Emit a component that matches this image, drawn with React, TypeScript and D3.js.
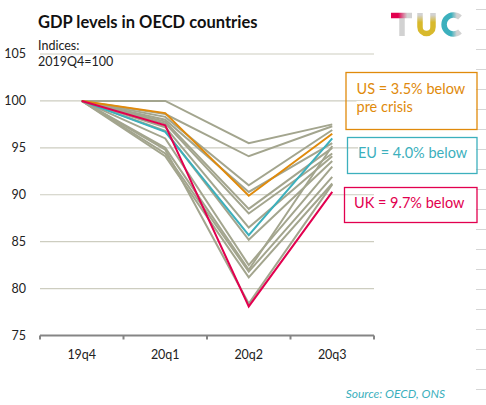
import React, { useEffect, useRef } from "react";
import * as d3 from "d3";

// GDP index by quarter, 2019Q4 = 100
const quarters = ["19q4", "20q1", "20q2", "20q3"];
const usValues = [100, 98.7, 89.9, 96.5];
const euValues = [100, 96.7, 85.7, 96.0];
const ukValues = [100, 97.4, 78.1, 90.3];
const otherCountries = [
  [100, 100.0, 95.5, 97.5],
  [100, 98.6, 94.1, 97.3],
  [100, 98.3, 91.0, 96.9],
  [100, 98.0, 90.3, 95.5],
  [100, 97.8, 88.5, 95.0],
  [100, 97.6, 88.0, 94.4],
  [100, 97.2, 86.5, 94.1],
  [100, 96.8, 85.2, 93.6],
  [100, 96.0, 82.5, 93.0],
  [100, 95.0, 82.0, 95.2],
  [100, 94.4, 81.8, 91.9],
  [100, 94.1, 81.2, 91.2],
  [100, 94.8, 78.4, 91.1],
];
const yTicks = [75, 80, 85, 90, 95, 100, 105];

const FONT = "Lato, 'Noto Sans', sans-serif";
const GREY = "#a3a58e";
const ORANGE = "#e08a0b";
const TEAL = "#3cb0bd";
const CRIMSON = "#e2004f";

function GdpChart() {
  const svgRef = useRef(null);

  useEffect(() => {
    const svg = d3.select(svgRef.current);
    svg.selectAll("*").remove();
    const svgWidth = 486;
    const plot = { left: 40, right: 374, top: 54, bottom: 335.5 };

    const x = d3.scaleBand().domain(quarters).range([plot.left, plot.right]);
    const y = d3.scaleLinear().domain([75, 105]).range([plot.bottom, plot.top]);
    const cx = (q) => x(q) + x.bandwidth() / 2;

    // short ticks down the right edge
    svg
      .append("g")
      .selectAll("line")
      .data(d3.range(20))
      .enter()
      .append("line")
      .attr("x1", 476)
      .attr("x2", svgWidth)
      .attr("y1", (d) => 9.5 + d * 20)
      .attr("y2", (d) => 9.5 + d * 20)
      .attr("stroke", "#d6d6d6");

    // title
    svg
      .append("text")
      .attr("x", 38)
      .attr("y", 28)
      .style("font-family", FONT)
      .style("font-weight", "bold")
      .style("font-size", "16.5px")
      .attr("fill", "#111")
      .text("GDP levels in OECD countries");

    svg
      .append("text")
      .attr("x", 38)
      .attr("y", 50)
      .style("font-family", FONT)
      .style("font-size", "12.5px")
      .attr("fill", "#222")
      .text("Indices:");

    // gridlines
    svg
      .append("g")
      .selectAll("line")
      .data(yTicks.filter((t) => t > 75))
      .enter()
      .append("line")
      .attr("x1", plot.left)
      .attr("x2", plot.right)
      .attr("y1", (d) => y(d))
      .attr("y2", (d) => y(d))
      .attr("stroke", "#cdcdc0")
      .attr("stroke-width", 1.2);

    svg
      .append("text")
      .attr("x", 38)
      .attr("y", 66)
      .style("font-family", FONT)
      .style("font-size", "12.5px")
      .attr("fill", "#222")
      .text("2019Q4=100");

    // y labels
    svg
      .append("g")
      .selectAll("text")
      .data(yTicks)
      .enter()
      .append("text")
      .attr("x", 26)
      .attr("y", (d) => y(d))
      .attr("dy", "0.35em")
      .attr("text-anchor", "end")
      .style("font-family", FONT)
      .style("font-size", "12.5px")
      .attr("fill", "#222")
      .text((d) => d);

    // x axis
    const axis = svg.append("g");
    axis
      .append("line")
      .attr("x1", plot.left)
      .attr("x2", plot.right)
      .attr("y1", y(75))
      .attr("y2", y(75))
      .attr("stroke", "#858585")
      .attr("stroke-width", 2);
    const bounds = quarters.map((q) => x(q)).concat([plot.right]);
    axis
      .selectAll(".tick")
      .data(bounds)
      .enter()
      .append("line")
      .attr("x1", (d) => d)
      .attr("x2", (d) => d)
      .attr("y1", y(75))
      .attr("y2", y(75) + 4)
      .attr("stroke", "#858585")
      .attr("stroke-width", 2);
    axis
      .selectAll("text")
      .data(quarters)
      .enter()
      .append("text")
      .attr("x", (d) => cx(d))
      .attr("y", 359)
      .attr("text-anchor", "middle")
      .style("font-family", FONT)
      .style("font-size", "12.5px")
      .attr("fill", "#222")
      .text((d) => d);

    // lines
    const line = d3
      .line()
      .x((d, i) => cx(quarters[i]))
      .y((d) => y(d));

    svg
      .append("g")
      .selectAll("path")
      .data(otherCountries)
      .enter()
      .append("path")
      .attr("d", line)
      .attr("fill", "none")
      .attr("stroke", GREY)
      .attr("stroke-width", 2);

    [
      [euValues, TEAL],
      [usValues, ORANGE],
      [ukValues, CRIMSON],
    ].forEach(([vals, color]) => {
      svg
        .append("path")
        .attr("d", line(vals))
        .attr("fill", "none")
        .attr("stroke", color)
        .attr("stroke-width", 2);
    });

    // annotation boxes
    const notes = [
      { lines: ["US = 3.5% below", "pre crisis"], color: ORANGE, box: [346, 72.5, 131, 57], tx: 356.5, ty: 93.5 },
      { lines: ["EU = 4.0% below"], color: TEAL, box: [347.5, 137.5, 129.5, 36], tx: 358, ty: 157.5 },
      { lines: ["UK = 9.7% below"], color: CRIMSON, box: [344.5, 187.5, 132.5, 35], tx: 354, ty: 207.5 },
    ];
    notes.forEach((n) => {
      const g = svg.append("g");
      g.append("rect")
        .attr("x", n.box[0])
        .attr("y", n.box[1])
        .attr("width", n.box[2])
        .attr("height", n.box[3])
        .attr("fill", "none")
        .attr("stroke", n.color)
        .attr("stroke-width", 1.3);
      n.lines.forEach((t, i) => {
        const txt = g
          .append("text")
          .attr("x", n.tx)
          .attr("y", n.ty + i * 18.5)
          .style("font-family", FONT)
          .style("font-size", "14.5px")
          .attr("fill", n.color)
          .text(t);
        const bb = txt.node().getBBox();
        g.insert("rect", "text")
          .attr("x", bb.x)
          .attr("y", bb.y + 3)
          .attr("width", bb.width)
          .attr("height", bb.height - 6)
          .attr("fill", "white");
      });
    });

    // source
    svg
      .append("text")
      .attr("x", 445)
      .attr("y", 398)
      .attr("text-anchor", "end")
      .style("font-family", FONT)
      .style("font-style", "italic")
      .style("font-size", "12px")
      .attr("fill", TEAL)
      .text("Source: OECD, ONS");

    // TUC logo
    const defs = svg.append("defs");
    const tGrad = defs
      .append("linearGradient")
      .attr("id", "tGrad")
      .attr("gradientUnits", "userSpaceOnUse")
      .attr("x1", 390)
      .attr("x2", 413)
      .attr("y1", 0)
      .attr("y2", 0);
    tGrad.append("stop").attr("offset", "0.35").attr("stop-color", CRIMSON);
    tGrad.append("stop").attr("offset", "0.75").attr("stop-color", "#d2d2d2");
    const uGrad = defs.append("linearGradient").attr("id", "uGrad").attr("x1", "0").attr("x2", "0").attr("y1", "0").attr("y2", "1");
    uGrad.append("stop").attr("offset", "0.1").attr("stop-color", "#d2d2d2");
    uGrad.append("stop").attr("offset", "0.45").attr("stop-color", "#d8b92c");
    const cGrad = defs.append("linearGradient").attr("id", "cGrad").attr("x1", "0").attr("x2", "1");
    cGrad.append("stop").attr("offset", "0.45").attr("stop-color", TEAL);
    cGrad.append("stop").attr("offset", "0.8").attr("stop-color", "#d2d2d2");

    const logo = svg.append("g").attr("fill", "none").attr("stroke-width", 5.5);
    logo.append("path").attr("d", "M402,15.5 V36").attr("stroke", "#d2d2d2");
    logo.append("path").attr("d", "M391,15.5 H412").attr("stroke", "url(#tGrad)");
    logo
      .append("path")
      .attr("d", "M420,13 V27 A6.5,6.5 0 0 0 433,27 V13")
      .attr("stroke", "url(#uGrad)");
    logo
      .append("path")
      .attr("d", "M460,17.5 A9.5,9.5 0 1 0 460,31.5")
      .attr("stroke", "url(#cGrad)");
  }, []);

  return (
    <svg
      ref={svgRef}
      width={486}
      height={405}
      style={{ position: "absolute", left: 0, top: 0, background: "white" }}
    ></svg>
  );
}

export default function App() {
  return <GdpChart />;
}
